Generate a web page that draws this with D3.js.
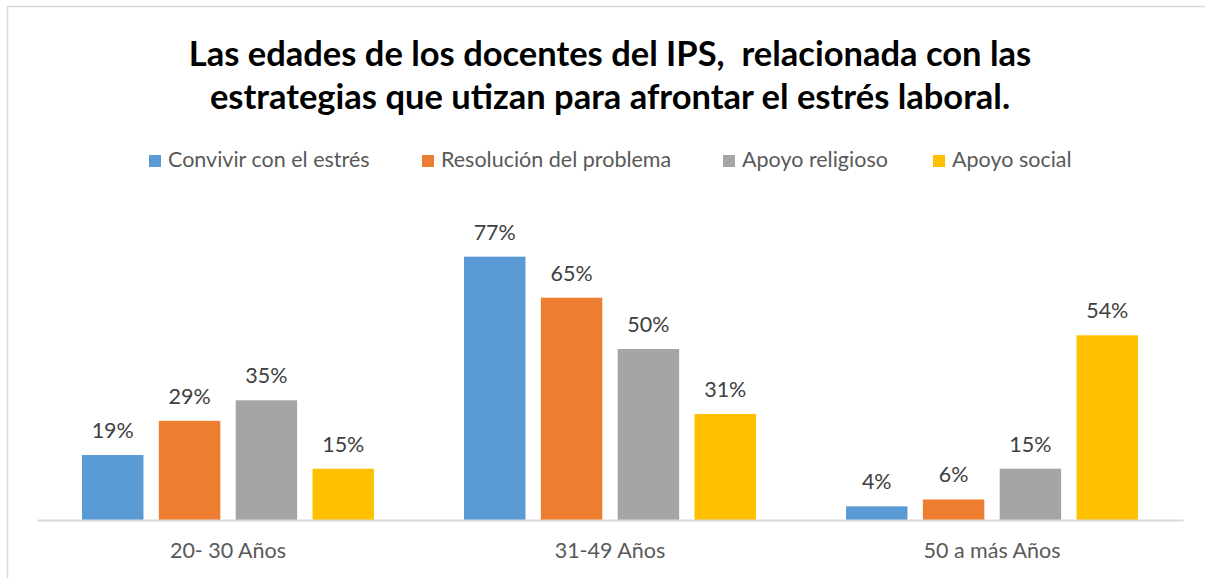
<!DOCTYPE html>
<html>
<head>
<meta charset="utf-8">
<script src="https://cdn.jsdelivr.net/npm/d3@7"></script>
<style>
  body { margin: 0; background: #fff; }
  svg { display: block; font-family: Lato, "Open Sans", sans-serif; }
</style>
</head>
<body>
<svg id="chart"></svg>
<script>
const categories = ["20- 30 Años", "31-49 Años", "50 a más Años"];
const seriesNames = ["Convivir con el estrés", "Resolución del problema", "Apoyo religioso", "Apoyo social"];
const convivir = [0.19, 0.77, 0.04];
const resolucion = [0.29, 0.65, 0.06];
const religioso = [0.35, 0.50, 0.15];
const social = [0.15, 0.31, 0.54];
const colors = ["#5B9BD5", "#ED7D31", "#A5A5A5", "#FFC000"];
const titleLines = [
    "Las edades de los docentes del IPS,  relacionada con las",
    "estrategias que utizan para afrontar el estrés laboral."
];

const seriesValues = [convivir, resolucion, religioso, social];

const width = 1205, height = 578;
const margin = {top: 178, right: 22, bottom: 58, left: 37};

const svg = d3.select("#chart")
    .attr("width", width)
    .attr("height", height);

// chart area border (only top and left visible)
svg.append("path")
    .attr("d", `M7.5,${height} V6.5 H${width}`)
    .attr("fill", "none")
    .attr("stroke", "#D9D9D9")
    .attr("stroke-width", 1.5);

// title
svg.append("text")
    .attr("text-anchor", "middle")
    .style("font-size", "34.5px")
    .style("font-weight", "700")
    .style("white-space", "pre")
    .attr("fill", "#000")
    .selectAll("tspan")
    .data(titleLines)
    .enter().append("tspan")
    .attr("x", 610)
    .attr("y", (d, i) => 66 + i * 43)
    .text(d => d);

// legend
const legendX = [149, 422, 723, 933];
const legend = svg.append("g").selectAll("g")
    .data(seriesNames)
    .enter().append("g")
    .attr("transform", (d, i) => `translate(${legendX[i]},155)`);
legend.append("rect")
    .attr("width", 12)
    .attr("height", 12)
    .attr("fill", (d, i) => colors[i]);
legend.append("text")
    .attr("x", 19)
    .attr("y", 12)
    .style("font-size", "21.5px")
    .attr("fill", "#595959")
    .text(d => d);

const innerW = width - margin.left - margin.right;
const innerH = height - margin.top - margin.bottom;

const g = svg.append("g")
    .attr("transform", `translate(${margin.left},${margin.top})`);

const x0 = d3.scaleBand()
    .domain(categories)
    .range([0, innerW]);

const x1 = d3.scaleBand()
    .domain(d3.range(seriesNames.length))
    .range([45, x0.bandwidth() - 45])
    .paddingInner(0.2);

const y = d3.scaleLinear()
    .domain([0, 1])
    .range([innerH, 0]);

// bars
const groups = g.selectAll(".grp")
    .data(categories)
    .enter().append("g")
    .attr("class", "grp")
    .attr("transform", d => `translate(${x0(d)},0)`);

const cells = groups.selectAll("g")
    .data((c, ci) => seriesValues.map((vals, si) => ({si, v: vals[ci]})))
    .enter().append("g");

cells.append("rect")
    .attr("x", d => x1(d.si))
    .attr("width", x1.bandwidth())
    .attr("y", d => y(d.v))
    .attr("height", d => innerH - y(d.v))
    .attr("fill", d => colors[d.si]);

cells.append("text")
    .attr("x", d => x1(d.si) + x1.bandwidth() / 2)
    .attr("y", d => y(d.v) - 17)
    .attr("text-anchor", "middle")
    .style("font-size", "21.5px")
    .attr("fill", "#404040")
    .text(d => d3.format(".0%")(d.v));

// x axis
const xAxis = g.append("g")
    .attr("transform", `translate(0,${innerH})`)
    .call(d3.axisBottom(x0).tickSize(0).tickPadding(20));
xAxis.select(".domain")
    .attr("stroke", "#D9D9D9")
    .attr("stroke-width", 2);
xAxis.selectAll("text")
    .attr("dy", null)
    .attr("y", 38)
    .style("font-size", "21.5px")
    .style("font-family", "Lato, sans-serif")
    .attr("fill", "#595959");
</script>
</body>
</html>
